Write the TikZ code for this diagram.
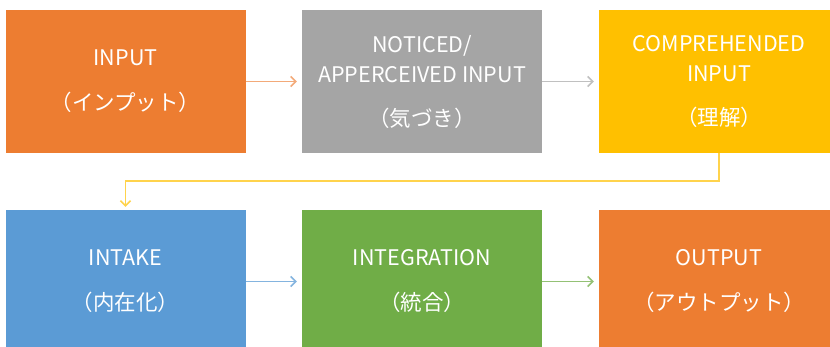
\documentclass[tikz,border=0pt]{standalone}
\usepackage{fontspec}
\setmainfont{Noto Sans CJK JP}
\usetikzlibrary{arrows.meta}

\definecolor{boxorange}{HTML}{ED7D31}
\definecolor{boxgray}{HTML}{A5A5A5}
\definecolor{boxgold}{HTML}{FFC000}
\definecolor{boxblue}{HTML}{5B9BD5}
\definecolor{boxgreen}{HTML}{70AD47}

\tikzset{
  stage/.style={shape=rectangle,minimum width=240pt,minimum height=143pt,
    inner sep=0pt,align=center,text=white,
    font=\fontsize{21.5}{30}\selectfont},
  flow/.style={line width=1.5pt,-{Straight Barb[length=5pt,width=10pt]},shorten >=5pt}
}

\begin{document}
\begin{tikzpicture}[x=1pt,y=-1pt]
	\useasboundingbox (0,0) rectangle (830,347);

	\node[stage,fill=boxorange] (input) at (125.5, 81.5) {INPUT\\[15pt]（インプット）};
	\node[stage,fill=boxgray] (noticed) at (422, 81.5) {NOTICED/\\APPERCEIVED INPUT\\[14pt]（気づき）};
	\node[stage,fill=boxgold] (compr) at (719, 81.5) {COMPREHENDED\\INPUT\\[14pt]（理解）};
	\node[stage,fill=boxblue] (intake) at (125.5, 281.5) {INTAKE\\[15pt]（内在化）};
	\node[stage,fill=boxgreen] (integr) at (422, 281.5) {INTEGRATION\\[15pt]（統合）};
	\node[stage,fill=boxorange] (output) at (719, 281.5) {OUTPUT\\[15pt]（アウトプット）};

	\path[flow,draw=boxorange!65] (input) edge (noticed);
	\path[flow,draw=boxgray!70] (noticed) edge (compr);
	\draw[flow,boxgold!70,shorten >=3pt] (compr.south) -- ++(0,28) -| (intake.north);
	\path[flow,draw=boxblue!75] (intake) edge (integr);
	\path[flow,draw=boxgreen!75] (integr) edge (output);
\end{tikzpicture}
\end{document}
